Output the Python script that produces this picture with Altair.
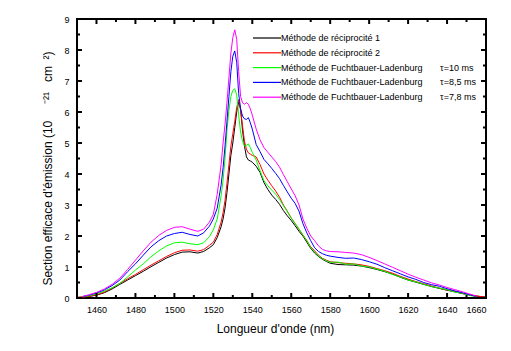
import altair as alt
import pandas as pd

# ---------------- data ----------------
wl = [1450, 1453, 1456, 1460,
      1464, 1468, 1472, 1476, 1480, 1484, 1488, 1492, 1496, 1500, 1504, 1508, 1512,
      1515, 1518, 1520, 1522, 1524,
      1525, 1526, 1527, 1528, 1529, 1530, 1531, 1532, 1533, 1534, 1535, 1536, 1537, 1538, 1539, 1540,
      1542, 1544, 1546, 1548, 1550, 1552, 1554, 1556, 1558, 1560, 1562, 1564, 1566, 1568, 1570, 1572,
      1574, 1576, 1578, 1580,
      1584, 1588, 1592, 1596, 1600, 1604, 1608, 1612, 1616, 1620, 1624, 1628, 1632, 1636, 1640, 1644,
      1648, 1652,
      1655, 1658, 1660]

recip1 = [0.02, 0.03, 0.05, 0.09,
          0.17, 0.29, 0.44, 0.58, 0.72, 0.86, 1.01, 1.15, 1.29, 1.40, 1.48, 1.49, 1.45,
          1.50, 1.62, 1.72, 1.95, 2.30,
          2.55, 2.90, 3.40, 4.00, 4.60, 5.00, 5.50, 6.00, 6.32, 6.10, 5.40, 4.90, 4.55, 4.45, 4.42, 4.38,
          4.25, 4.05, 3.72, 3.50, 3.32, 3.18, 3.02, 2.82, 2.65, 2.50, 2.33, 2.15, 2.00, 1.80, 1.60, 1.45,
          1.34, 1.25, 1.18, 1.12,
          1.08, 1.07, 1.06, 1.03, 0.98, 0.92, 0.85, 0.77, 0.67, 0.58, 0.51, 0.44, 0.37, 0.31, 0.25, 0.20,
          0.14, 0.09,
          0.06, 0.04, 0.03]

recip2 = [0.02, 0.03, 0.05, 0.10,
          0.19, 0.32, 0.47, 0.62, 0.76, 0.91, 1.06, 1.20, 1.34, 1.46, 1.54, 1.55, 1.51,
          1.56, 1.70, 1.80, 2.05, 2.45,
          2.75, 3.15, 3.70, 4.30, 4.90, 5.30, 5.70, 6.15, 6.40, 6.05, 5.55, 5.05, 4.80, 4.68, 4.64, 4.60,
          4.55, 4.30, 4.00, 3.80, 3.62, 3.45, 3.25, 3.00, 2.80, 2.58, 2.40, 2.22, 2.03, 1.85, 1.65, 1.52,
          1.38, 1.28, 1.22, 1.17,
          1.14, 1.12, 1.10, 1.07, 1.02, 0.95, 0.88, 0.80, 0.70, 0.61, 0.53, 0.46, 0.39, 0.32, 0.26, 0.21,
          0.15, 0.10,
          0.07, 0.04, 0.03]

fl_10 = [None, 0.04, 0.07, 0.13,
         0.22, 0.33, 0.47, 0.68, 0.90, 1.10, 1.33, 1.52, 1.68, 1.78, 1.80, 1.75, 1.72,
         1.78, 1.98, 2.20, 2.55, 3.30,
         3.80, 4.50, 5.40, 6.05, 6.50, 6.70, 6.75, 6.55, 5.90, 5.35, 5.05, 4.90, 4.92, 4.97, 4.85, 4.70,
         4.45, 4.10, 3.78, 3.62, 3.48, 3.35, 3.18, 2.98, 2.78, 2.58, 2.40, 2.22, 2.03, 1.85, 1.62, 1.48,
         1.36, 1.27, 1.20, 1.15,
         1.16, 1.09, 1.10, 1.03, 1.00, 0.93, 0.86, 0.76, 0.68, 0.58, 0.52, 0.44, 0.37, 0.32, 0.27, 0.19,
         0.15, 0.08,
         0.04, None, None]

fl_85 = [None, 0.05, 0.09, 0.16,
         0.26, 0.40, 0.58, 0.85, 1.10, 1.38, 1.65, 1.85, 2.00, 2.08, 2.12, 2.05, 2.00,
         2.10, 2.32, 2.55, 2.90, 3.65,
         4.20, 4.90, 5.70, 6.50, 7.30, 7.80, 7.97, 7.60, 6.60, 6.10, 5.87, 5.78, 5.76, 5.82, 5.65, 5.45,
         4.95, 4.72, 4.47, 4.33, 4.18, 4.02, 3.85, 3.63, 3.42, 3.22, 3.05, 2.80, 2.40, 2.10, 1.85, 1.62,
         1.50, 1.43, 1.38, 1.35,
         1.31, 1.28, 1.29, 1.24, 1.17, 1.09, 0.98, 0.88, 0.78, 0.68, 0.60, 0.50, 0.43, 0.38, 0.30, 0.23,
         0.17, 0.10,
         0.05, None, None]

fl_78 = [None, 0.05, 0.10, 0.18,
         0.29, 0.44, 0.64, 0.92, 1.22, 1.52, 1.80, 2.02, 2.18, 2.28, 2.30, 2.22, 2.15,
         2.22, 2.45, 2.70, 3.35, 4.30,
         5.00, 5.60, 6.30, 7.10, 7.90, 8.40, 8.65, 8.35, 7.30, 6.50, 6.30, 6.25, 6.30, 6.25, 6.10, 5.90,
         5.45, 5.10, 4.85, 4.70, 4.55, 4.40, 4.22, 3.98, 3.75, 3.52, 3.30, 3.00, 2.55, 2.25, 2.00, 1.85,
         1.68, 1.57, 1.52, 1.50,
         1.49, 1.47, 1.45, 1.40, 1.31, 1.21, 1.10, 0.99, 0.88, 0.77, 0.67, 0.58, 0.49, 0.42, 0.34, 0.27,
         0.20, 0.12,
         0.06, None, None]

NB = "\u00a0"
names = ["Méthode de réciprocité 1",
         "Méthode de réciprocité 2",
         "Méthode de Fuchtbauer-Ladenburg" + NB * 7 + "τ=10 ms",
         "Méthode de Fuchtbauer-Ladenburg" + NB * 7 + "τ=8,5 ms",
         "Méthode de Fuchtbauer-Ladenburg" + NB * 7 + "τ=7,8 ms"]
colors = ["#000000", "#ff0000", "#00ff00", "#0000ff", "#ff00ff"]
series = [recip1, recip2, fl_10, fl_85, fl_78]

x_major = [1460, 1480, 1500, 1520, 1540, 1560, 1580, 1600, 1620, 1640, 1660]
x_minor = [1450, 1470, 1490, 1510, 1530, 1550, 1570, 1590, 1610, 1630, 1650]
y_major = [0, 1, 2, 3, 4, 5, 6, 7, 8, 9]
y_minor = [0.5, 1.5, 2.5, 3.5, 4.5, 5.5, 6.5, 7.5, 8.5]

x_title = "Longueur d'onde (nm)"
y_title = ("Section efficace d'émission (10" + NB * 5 + "⁻²¹" + NB * 3 + "cm" + NB * 2 + "²)")

rows = []
for k, (name, vals) in enumerate(zip(names, series)):
    for w, v in zip(wl, vals):
        if v is not None:
            rows.append({"wl": w, "v": v, "s": name, "k": k})
df = pd.DataFrame(rows)

W, H = 409, 279
MAJ, MIN = 5, 3
FONT = "Liberation Sans"
xs = alt.Scale(domain=[1450, 1660], nice=False, zero=False)
ys = alt.Scale(domain=[0, 9], nice=False, zero=False)

x_axis = alt.Axis(values=x_major, format="d", ticks=False, domain=False, grid=False,
                  labelFontSize=9, labelPadding=7,
                  title=x_title, titleFontSize=12,
                  titlePadding=9, titleX=198)
y_axis = alt.Axis(values=y_major, ticks=False, domain=False, grid=False,
                  labelFontSize=9, labelPadding=8,
                  title=y_title,
                  titleFontSize=12, titlePadding=9, titleY=149)

main = alt.Chart(df).mark_line(strokeWidth=1).encode(
    x=alt.X("wl:Q", scale=xs, axis=x_axis),
    y=alt.Y("v:Q", scale=ys, axis=y_axis),
    color=alt.Color("s:N", scale=alt.Scale(domain=names, range=colors),
                    legend=alt.Legend(orient="none", legendX=184, legendY=13, title=None,
                                      padding=0,
                                      symbolType="M-2.8,0L2.8,0", symbolSize=100,
                                      symbolStrokeWidth=1.2, labelFontSize=9,
                                      labelOffset=8, rowPadding=3.8, labelLimit=400,
                                      labelColor="black")),
    order="k:Q",
)


# inward ticks on all four sides of the frame
def xticks(vals, y0, y1):
    return alt.Chart(pd.DataFrame({"t": vals})).mark_rule(color="black", strokeWidth=2).encode(
        x=alt.X("t:Q", scale=xs, axis=x_axis), y=alt.value(y0), y2=alt.value(y1))


def yticks(vals, x0, x1):
    return alt.Chart(pd.DataFrame({"t": vals})).mark_rule(color="black", strokeWidth=2).encode(
        y=alt.Y("t:Q", scale=ys, axis=y_axis), x=alt.value(x0), x2=alt.value(x1))


chart = alt.layer(
    main,
    xticks(x_major, H, H - MAJ), xticks(x_minor, H, H - MIN),
    xticks(x_major, 0, MAJ), xticks(x_minor, 0, MIN),
    yticks(y_major, 0, MAJ), yticks(y_minor, 0, MIN),
    yticks(y_major, W, W - MAJ), yticks(y_minor, W, W - MIN),
).properties(
    width=W, height=H,
    autosize=alt.AutoSizeParams(type="none"),
    padding={"left": 77, "top": 19, "right": 25, "bottom": 53},
    background="white",
).configure_view(stroke="black", strokeWidth=2).configure_axis(
    labelFont=FONT, titleFont=FONT, labelColor="black", titleColor="black",
    titleFontWeight="normal",
).configure_legend(labelFont=FONT)

chart.save("out.html", embed_options={"renderer": "svg", "actions": False})
